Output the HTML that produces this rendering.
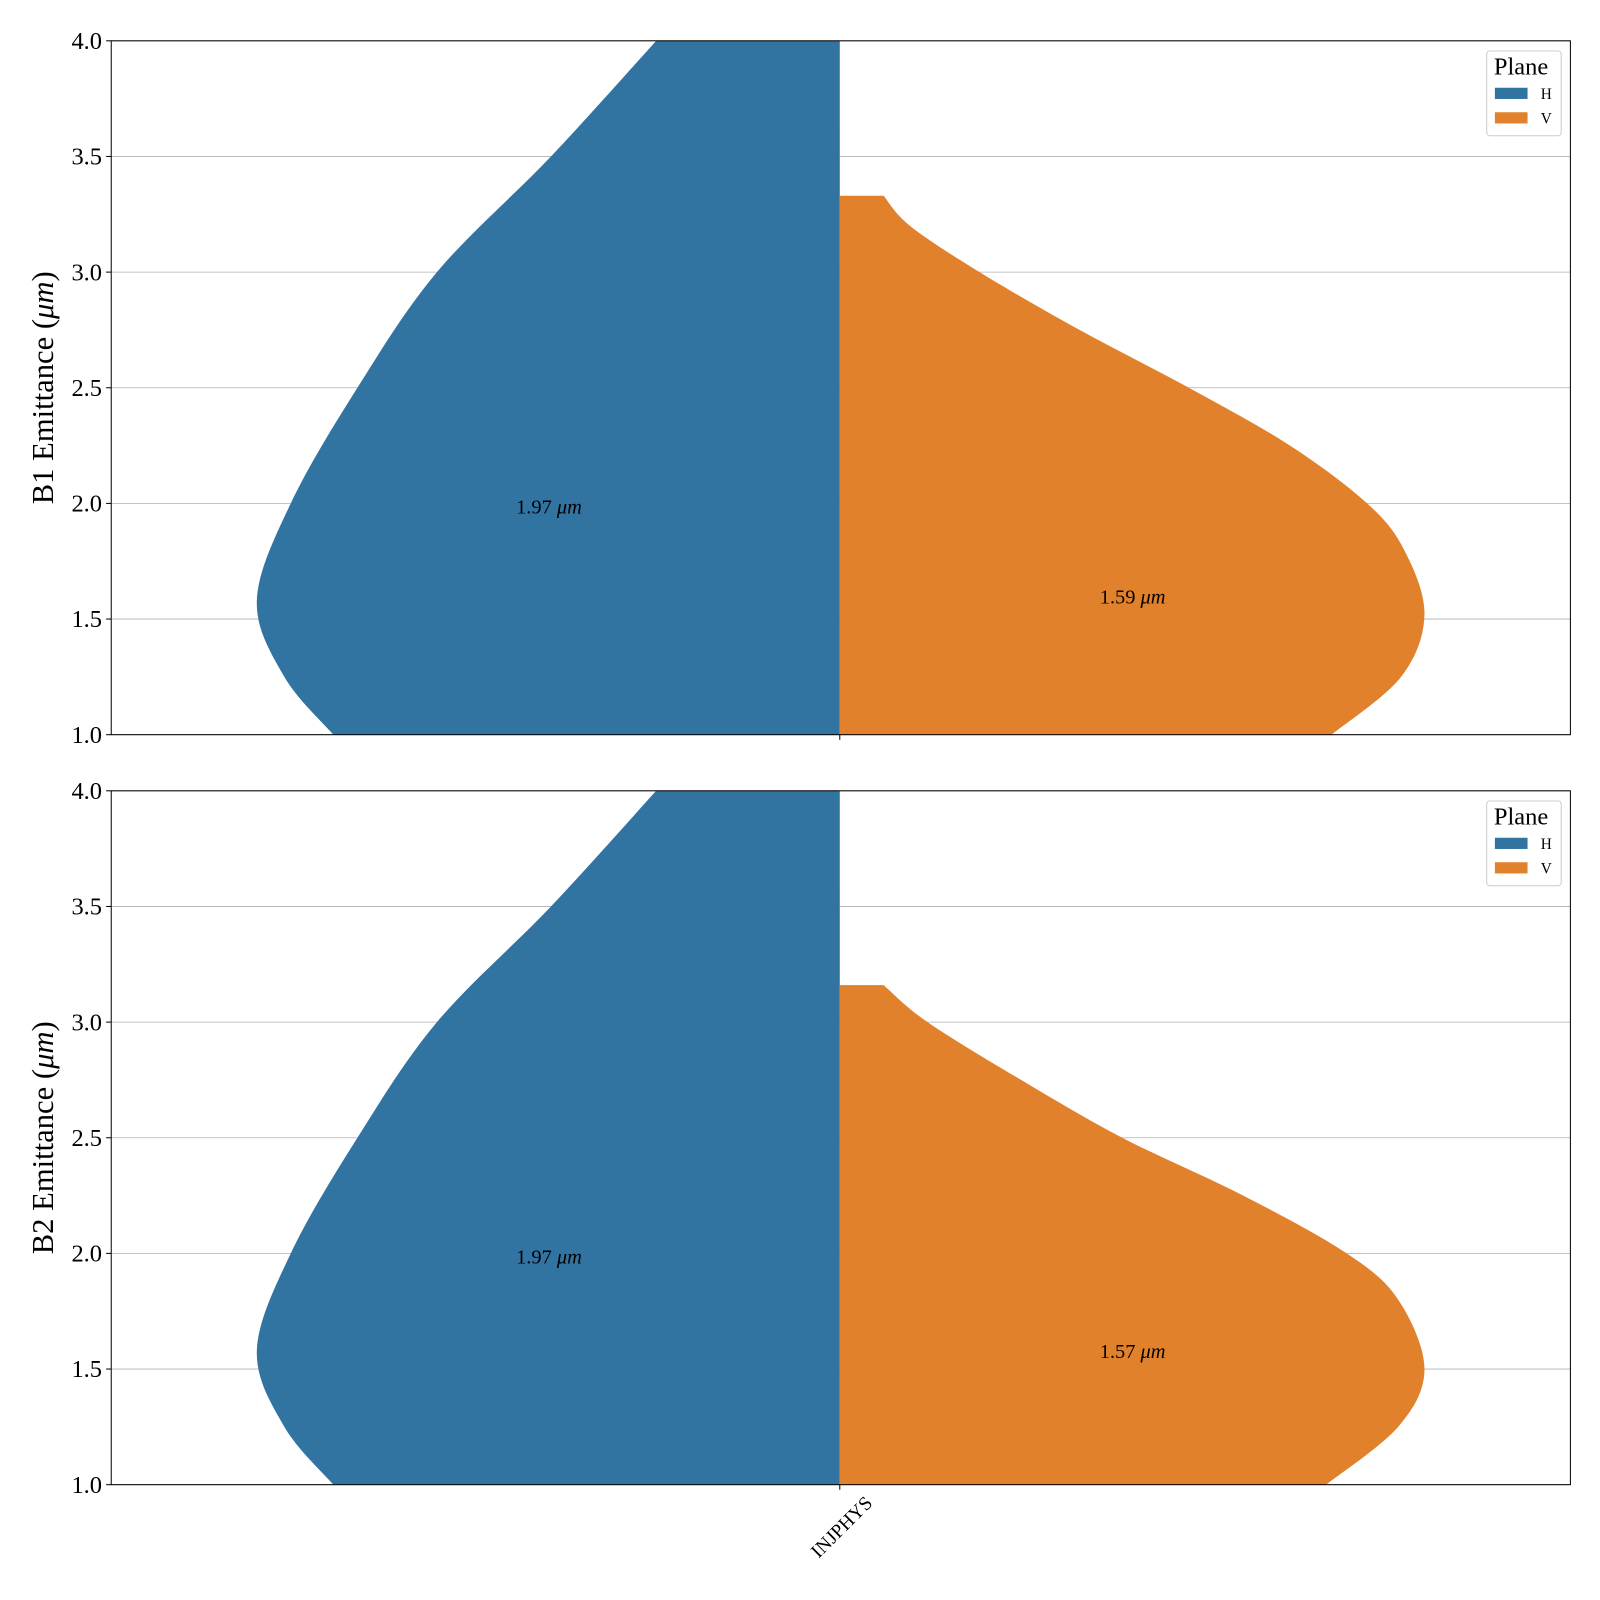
<!DOCTYPE html>
<html><head><meta charset="utf-8"><style>
html,body{margin:0;padding:0;background:#fff;width:1600px;height:1600px;overflow:hidden}
svg{display:block}
svg text{font-family:"Liberation Serif",serif}
</style></head><body>
<svg width="1600" height="1600" viewBox="0 0 1600 1600" xmlns="http://www.w3.org/2000/svg"><g id="c" transform="scale(1.0204)"></g></svg>
<script>
const yTicks=[1.0,1.5,2.0,2.5,3.0,3.5,4.0];
const category=["INJPHYS"];
// density profiles (y value, relative half-width)
const b1H_y=[1.0,1.25,1.58,2.0,2.5,3.0,3.5,4.0];
const b1H_w=[0.866,0.95,0.997,0.939,0.825,0.689,0.494,0.314];
const b1V_y=[1.0,1.25,1.52,1.8,2.0,2.25,2.5,2.75,3.0,3.2,3.33];
const b1V_w=[0.841,0.96,1.0,0.965,0.902,0.77,0.597,0.41,0.239,0.12,0.075];
const b2H_y=[1.0,1.25,1.58,2.0,2.5,3.0,3.5,4.0];
const b2H_w=[0.866,0.95,0.997,0.939,0.825,0.689,0.494,0.314];
const b2V_y=[1.0,1.25,1.5,1.8,2.0,2.25,2.5,2.75,3.0,3.16];
const b2V_w=[0.832,0.955,1.0,0.955,0.867,0.69,0.483,0.31,0.15,0.075];
const medians=[[1.97,1.59],[1.97,1.57]];
const panels=[{top:40,label:"B1",H:[b1H_y,b1H_w],V:[b1V_y,b1V_w]},{top:775,label:"B2",H:[b2H_y,b2H_w],V:[b2V_y,b2V_w]}];
const NS="http://www.w3.org/2000/svg",svg=document.getElementById('c');
const L=109,R=1539,H=680,CX=823,WMAX=573;
function mk(t,a,p){const e=document.createElementNS(NS,t);for(const k in a)e.setAttribute(k,a[k]);(p||svg).appendChild(e);return e;}
function smooth(pts){let d="M"+pts[0][0]+","+pts[0][1];for(let i=0;i<pts.length-1;i++){const p0=pts[Math.max(i-1,0)],p1=pts[i],p2=pts[i+1],p3=pts[Math.min(i+2,pts.length-1)];d+=`C${p1[0]+(p2[0]-p0[0])/6},${p1[1]+(p2[1]-p0[1])/6} ${p2[0]-(p3[0]-p1[0])/6},${p2[1]-(p3[1]-p1[1])/6} ${p2[0]},${p2[1]}`;}return d;}
panels.forEach((p,pi)=>{
const g=mk('g',{});


const ys=v=>p.top+H-(v-1)/3*H;
yTicks.forEach(t=>{const l=mk('line',{x1:L,x2:R,y1:ys(t),y2:ys(t),stroke:'#b0b0b0','stroke-width':0.8},g);
mk('line',{x1:L-5,x2:L,y1:ys(t),y2:ys(t),stroke:'#000'},g);
const tx=mk('text',{x:L-9,y:ys(t)+8,'text-anchor':'end','font-size':24},g);tx.textContent=t.toFixed(1);});
const clip=mk('clipPath',{id:'cl'+pi},g);mk('rect',{x:L,y:p.top,width:R-L,height:H},clip);
[['H',-1,'#3274a1'],['V',1,'#e1812c']].forEach(([k,s,c])=>{const [yy,ww]=p[k];
const pts=yy.map((v,i)=>[CX+s*ww[i]*WMAX,ys(v)]);
let d=smooth(pts)+`L${CX},${ys(yy[yy.length-1])}L${CX},${ys(yy[0])}Z`;
const e=mk('path',{d,fill:c,'clip-path':`url(#cl${pi})`},g);});
const m=medians[pi];
const t1=mk('text',{x:538,y:ys(m[0])+3,'text-anchor':'middle','font-size':20},g);t1.innerHTML=m[0].toFixed(2)+' <tspan font-style="italic">μm</tspan>';
const t2=mk('text',{x:1110,y:ys(m[1])+5,'text-anchor':'middle','font-size':20},g);t2.innerHTML=m[1].toFixed(2)+' <tspan font-style="italic">μm</tspan>';
mk('rect',{x:L,y:p.top,width:R-L,height:H,fill:'none',stroke:'#000','stroke-width':1},g);
mk('line',{x1:CX,x2:CX,y1:p.top+H,y2:p.top+H+5,stroke:'#000'},g);
const yl=mk('text',{transform:`translate(52,${p.top+H/2}) rotate(-90)`,'text-anchor':'middle','font-size':30},g);yl.innerHTML=p.label+' Emittance (<tspan font-style="italic">μm</tspan>)';
const lg=mk('g',{},g);
mk('rect',{x:1457,y:p.top+10,width:73,height:83,rx:3,fill:'#fff',stroke:'#ccc'},lg);
const lt=mk('text',{x:1464,y:p.top+33,'font-size':24},lg);lt.textContent='Plane';
[['H','#3274a1'],['V','#e1812c']].forEach(([n,c],i)=>{mk('rect',{x:1465,y:p.top+46+i*24,width:32,height:11,fill:c},lg);const tt=mk('text',{x:1510,y:p.top+57+i*24,'font-size':15},lg);tt.textContent=n;});
});
const xl=mk('text',{transform:'translate(856,1474) rotate(-45)','text-anchor':'end','font-size':19});xl.textContent=category[0];
</script>
</body></html>
